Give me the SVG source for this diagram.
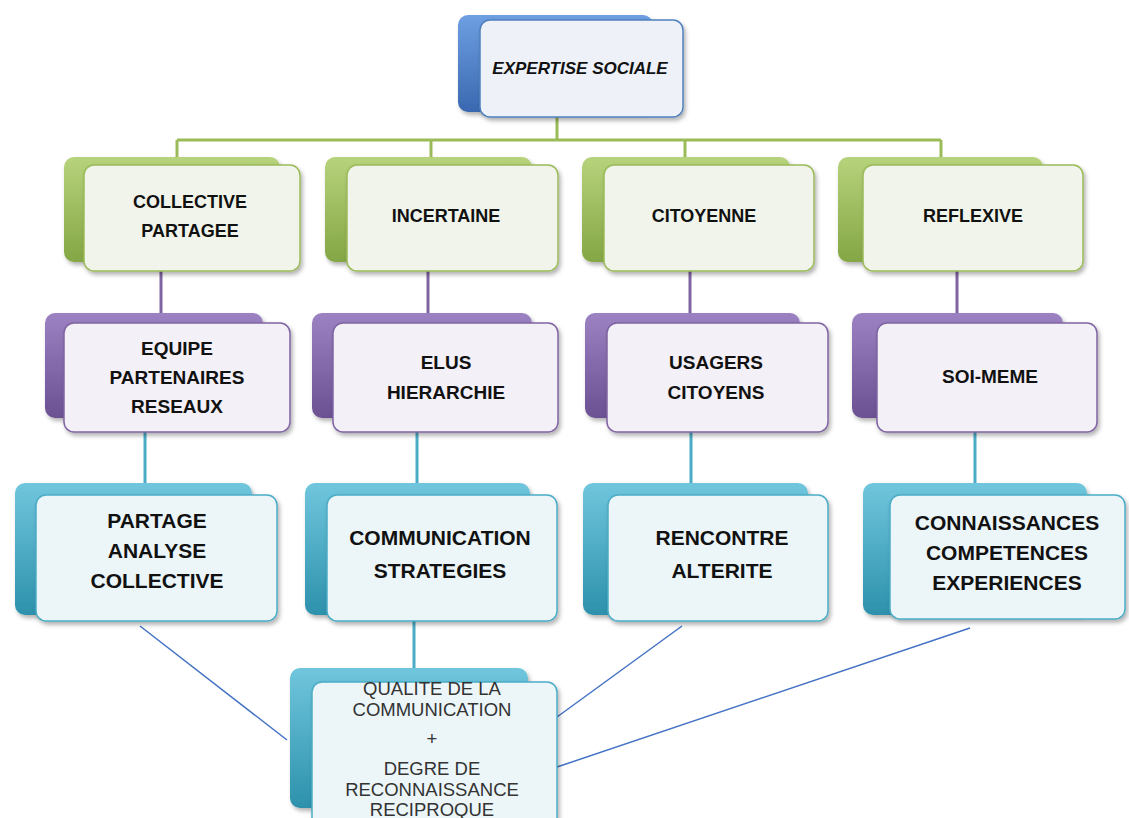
<svg xmlns="http://www.w3.org/2000/svg" width="1129" height="818" viewBox="0 0 1129 818">
<defs>
<linearGradient id="gTop" x1="0" y1="0" x2="0" y2="1"><stop offset="0" stop-color="#6E9FE2"/><stop offset="1" stop-color="#3A68B0"/></linearGradient>
<linearGradient id="gGreen" x1="0" y1="0" x2="0" y2="1"><stop offset="0" stop-color="#B7D37C"/><stop offset="1" stop-color="#84A644"/></linearGradient>
<linearGradient id="gPurple" x1="0" y1="0" x2="0" y2="1"><stop offset="0" stop-color="#9C82C2"/><stop offset="1" stop-color="#6B5092"/></linearGradient>
<linearGradient id="gTeal" x1="0" y1="0" x2="0" y2="1"><stop offset="0" stop-color="#70C6DD"/><stop offset="1" stop-color="#2D91AC"/></linearGradient>
<filter id="sh" x="-10%" y="-10%" width="125%" height="130%"><feDropShadow dx="2" dy="3" stdDeviation="2" flood-color="#000" flood-opacity="0.3"/></filter>
</defs>
<style>
.bk{filter:url(#sh)}
.fr{filter:url(#sh);stroke-width:1.5}
.fTop{fill:#EEF2F8;stroke:#4F81BD}
.fG{fill:#F1F4EA;stroke:#9BBB59}
.fP{fill:#F3F0F7;stroke:#8064A2}
.fT{fill:#ECF6F9;stroke:#4BACC6}
.t{font-family:"Liberation Sans",Arial,sans-serif;font-weight:bold;fill:#111;text-anchor:middle}
.tt{font-size:17px;font-style:italic}
.tg{font-size:18px}
.tp{font-size:19px}
.tb{font-size:21px}
.tq{font-size:18.5px;font-weight:normal;fill:#333}
.cg{stroke:#9BBB59;stroke-width:3;fill:none}
.cp{stroke:#8064A2;stroke-width:3;fill:none}
.ct{stroke:#4BACC6;stroke-width:3;fill:none}
.cb{stroke:#4472C4;stroke-width:1.5;fill:none}
</style>
<rect width="1129" height="818" fill="#fff"/>
<g id="connectors">
<path class="cg" d="M557 117V140M177 140H941M177 140V160M431 140V160M685 140V160M941 140V160"/>
<path class="cp" d="M161 268V316M428 268V316M690 268V316M957 268V316"/>
<path class="ct" d="M145 428V486M417 428V486M691 428V486M975 428V486M414 618V670"/>
<path class="cb" d="M140 626L287 740M682 626L557 717M970 628L557 767"/>
</g>
<g id="n-top">
<rect class="bk" x="458" y="15" width="195" height="97" rx="10" fill="url(#gTop)"/>
<rect class="fr fTop" x="480" y="20" width="203" height="97" rx="10"/>
<text class="t tt" x="580" y="74">EXPERTISE SOCIALE</text>
</g>
<g id="n-collective">
<rect class="bk" x="64" y="157" width="216" height="105" rx="10" fill="url(#gGreen)"/>
<rect class="fr fG" x="84" y="165" width="216" height="106" rx="10"/>
<text class="t tg" x="190" y="208">COLLECTIVE</text>
<text class="t tg" x="190" y="237">PARTAGEE</text>
</g>
<g id="n-incertaine">
<rect class="bk" x="325" y="157" width="207" height="105" rx="10" fill="url(#gGreen)"/>
<rect class="fr fG" x="347" y="165" width="211" height="106" rx="10"/>
<text class="t tg" x="446" y="222">INCERTAINE</text>
</g>
<g id="n-citoyenne">
<rect class="bk" x="582" y="157" width="208" height="105" rx="10" fill="url(#gGreen)"/>
<rect class="fr fG" x="604" y="165" width="210" height="106" rx="10"/>
<text class="t tg" x="704" y="222">CITOYENNE</text>
</g>
<g id="n-reflexive">
<rect class="bk" x="838" y="157" width="205" height="105" rx="10" fill="url(#gGreen)"/>
<rect class="fr fG" x="863" y="165" width="220" height="106" rx="10"/>
<text class="t tg" x="973" y="222">REFLEXIVE</text>
</g>
<g id="n-equipe">
<rect class="bk" x="45" y="313" width="218" height="105" rx="10" fill="url(#gPurple)"/>
<rect class="fr fP" x="64" y="323" width="226" height="109" rx="10"/>
<text class="t tp" x="177" y="355">EQUIPE</text>
<text class="t tp" x="177" y="384">PARTENAIRES</text>
<text class="t tp" x="177" y="413">RESEAUX</text>
</g>
<g id="n-elus">
<rect class="bk" x="312" y="313" width="220" height="105" rx="10" fill="url(#gPurple)"/>
<rect class="fr fP" x="333" y="323" width="225" height="109" rx="10"/>
<text class="t tp" x="446" y="369">ELUS</text>
<text class="t tp" x="446" y="399">HIERARCHIE</text>
</g>
<g id="n-usagers">
<rect class="bk" x="585" y="313" width="215" height="105" rx="10" fill="url(#gPurple)"/>
<rect class="fr fP" x="607" y="323" width="221" height="109" rx="10"/>
<text class="t tp" x="716" y="369">USAGERS</text>
<text class="t tp" x="716" y="399">CITOYENS</text>
</g>
<g id="n-soimeme">
<rect class="bk" x="852" y="313" width="211" height="105" rx="10" fill="url(#gPurple)"/>
<rect class="fr fP" x="877" y="323" width="220" height="109" rx="10"/>
<text class="t tp" x="990" y="383">SOI-MEME</text>
</g>
<g id="n-partage">
<rect class="bk" x="15" y="483" width="237" height="132" rx="10" fill="url(#gTeal)"/>
<rect class="fr fT" x="36" y="495" width="241" height="126" rx="10"/>
<text class="t tb" x="157" y="528">PARTAGE</text>
<text class="t tb" x="157" y="558">ANALYSE</text>
<text class="t tb" x="157" y="588">COLLECTIVE</text>
</g>
<g id="n-communication">
<rect class="bk" x="305" y="483" width="225" height="132" rx="10" fill="url(#gTeal)"/>
<rect class="fr fT" x="327" y="495" width="230" height="126" rx="10"/>
<text class="t tb" x="440" y="545">COMMUNICATION</text>
<text class="t tb" x="440" y="578">STRATEGIES</text>
</g>
<g id="n-rencontre">
<rect class="bk" x="583" y="483" width="225" height="132" rx="10" fill="url(#gTeal)"/>
<rect class="fr fT" x="608" y="495" width="220" height="126" rx="10"/>
<text class="t tb" x="722" y="545">RENCONTRE</text>
<text class="t tb" x="722" y="578">ALTERITE</text>
</g>
<g id="n-connaissances">
<rect class="bk" x="863" y="483" width="224" height="132" rx="10" fill="url(#gTeal)"/>
<rect class="fr fT" x="890" y="495" width="235" height="124" rx="10"/>
<text class="t tb" x="1007" y="530">CONNAISSANCES</text>
<text class="t tb" x="1007" y="560">COMPETENCES</text>
<text class="t tb" x="1007" y="590">EXPERIENCES</text>
</g>
<g id="n-qualite">
<rect class="bk" x="290" y="668" width="238" height="140" rx="10" fill="url(#gTeal)"/>
<rect class="fr fT" x="312" y="682" width="245" height="150" rx="10"/>
<text class="t tq" x="432" y="695">QUALITE DE LA</text>
<text class="t tq" x="432" y="716">COMMUNICATION</text>
<text class="t tq" x="432" y="745">+</text>
<text class="t tq" x="432" y="775">DEGRE DE</text>
<text class="t tq" x="432" y="796">RECONNAISSANCE</text>
<text class="t tq" x="432" y="816">RECIPROQUE</text>
</g>
</svg>
